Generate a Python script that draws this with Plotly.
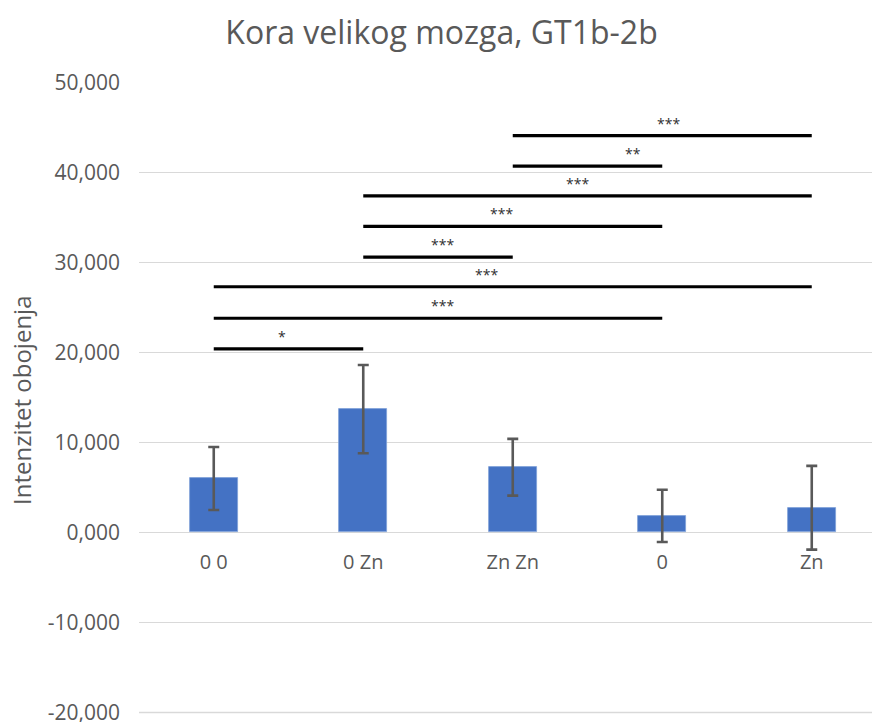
import plotly.graph_objects as go

# ---- data ----
categories = ["0 0", "0 Zn", "Zn Zn", "0", "Zn"]
means = [6.0, 13.7, 7.25, 1.85, 2.75]
errors = [3.5, 4.9, 3.15, 2.9, 4.65]

# significance comparisons: (from index, to index, level, label, label x position)
sig_from = [0, 0, 0, 1, 1, 1, 2, 2]
sig_to = [1, 3, 4, 2, 3, 4, 3, 4]
sig_level = [20.4, 23.8, 27.3, 30.6, 34.0, 37.4, 40.7, 44.1]
sig_label = ["*", "***", "***", "***", "***", "***", "**", "***"]
sig_label_x = [0.455, 1.529, 1.826, 1.529, 1.926, 2.434, 2.806, 3.040]

y_ticks = [-20, -10, 0, 10, 20, 30, 40, 50]
y_ticktext = [f"{v:.3f}".replace(".", ",") for v in y_ticks]

FONT = "Open Sans"
GREY = "#595959"
GRID = "#d9d9d9"

Y_MIN, Y_MAX = -20.5, 50.05

fig = go.Figure()
fig.add_trace(go.Bar(
    x=categories, y=means, width=0.32,
    marker=dict(color="#4472C4", line=dict(color="#7f9fd8", width=0.8)),
    error_y=dict(type="data", array=errors, visible=True,
                 color="#595959", thickness=2.6, width=5.5),
    showlegend=False, hoverinfo="skip",
))

for a, b, lvl in zip(sig_from, sig_to, sig_level):
    fig.add_trace(go.Scatter(
        x=[categories[a], categories[b]], y=[lvl, lvl], mode="lines",
        line=dict(color="black", width=3.2), showlegend=False, hoverinfo="skip",
    ))

for lx, lvl, lab in zip(sig_label_x, sig_level, sig_label):
    fig.add_annotation(x=lx, y=lvl, text=lab, showarrow=False,
                       xref="x", yref="y", yanchor="bottom", yshift=1,
                       font=dict(family=FONT, size=14, color="#303030"))

# bottom gridline (plotly omits it so close to the plot edge)
fig.add_shape(type="line", xref="paper", yref="y", x0=0, x1=1,
              y0=y_ticks[0], y1=y_ticks[0], layer="below",
              line=dict(color=GRID, width=1.3))

fig.add_annotation(text="Intenzitet obojenja", textangle=-90, showarrow=False,
                   xref="paper", yref="paper", x=(21 - 139) / 733, y=(717 - 400) / 635,
                   xanchor="center", yanchor="middle",
                   font=dict(family=FONT, size=24, color=GREY))

fig.update_layout(
    width=872, height=722,
    paper_bgcolor="white", plot_bgcolor="white",
    margin=dict(l=139, r=0, t=82, b=5),
    title=dict(text="Kora velikog mozga, GT1b-2b", x=(228 + 655) / 2 / 872, xanchor="center",
               y=1 - 33 / 722, yanchor="middle", xref="container", yref="container",
               font=dict(family=FONT, size=32, color=GREY)),
    xaxis=dict(type="category", range=[-0.5, 4.403], showgrid=False, zeroline=False,
               showline=False, ticks="", anchor="free",
               position=(0 - Y_MIN) / (Y_MAX - Y_MIN), ticklabelstandoff=16,
               tickfont=dict(family=FONT, size=20, color=GREY), automargin=False),
    yaxis=dict(range=[Y_MIN, Y_MAX], tickvals=y_ticks, ticktext=y_ticktext,
               showgrid=True, gridcolor=GRID, gridwidth=1.3, zeroline=False,
               showline=False, ticks="", ticklabelstandoff=18, ticklabeloverflow="allow",
               tickfont=dict(family=FONT, size=21, color=GREY), automargin=False),
    bargap=0,
)

fig.write_html("out.html", config={"displayModeBar": False},
               post_script="document.body.style.margin='0';document.body.style.overflow='hidden';")
